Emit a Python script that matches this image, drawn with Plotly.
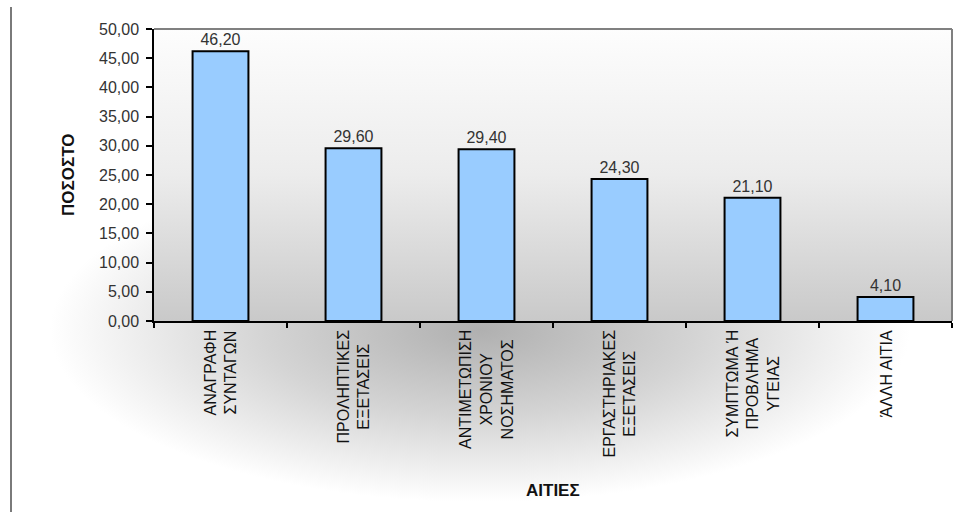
import base64
import plotly.graph_objects as go

categories = ["ΑΝΑΓΡΑΦΗ<br>ΣΥΝΤΑΓΩΝ", "ΠΡΟΛΗΠΤΙΚΕΣ<br>ΕΞΕΤΑΣΕΙΣ",
              "ΑΝΤΙΜΕΤΩΠΙΣΗ<br>ΧΡΟΝΙΟΥ<br>ΝΟΣΗΜΑΤΟΣ", "ΕΡΓΑΣΤΗΡΙΑΚΕΣ<br>ΕΞΕΤΑΣΕΙΣ",
              "ΣΥΜΠΤΩΜΑ Ή<br>ΠΡΟΒΛΗΜΑ<br>ΥΓΕΙΑΣ", "ΆΛΛΗ ΑΙΤΙΑ"]
values = [46.20, 29.60, 29.40, 24.30, 21.10, 4.10]
y_title = "ΠΟΣΟΣΤΟ"
x_title = "ΑΙΤΙΕΣ"

W, H = 957, 525
L, R, T, B = 154, 5, 29, 204
PW, PH = W - L - R, H - T - B

def px_x(px):
    return (px - L) / PW

def px_y(py):
    return (H - B - py) / PH

def svg_uri(svg):
    return "data:image/svg+xml;base64," + base64.b64encode(svg.encode()).decode()

bg_svg = f'''<svg xmlns="http://www.w3.org/2000/svg" width="{W}" height="{H}" viewBox="0 0 {W} {H}" preserveAspectRatio="none">
<defs>
<radialGradient id="g" cx="480" cy="330" r="430" gradientUnits="userSpaceOnUse" gradientTransform="translate(480 330) scale(1 0.4) translate(-480 -330)">
<stop offset="0" stop-color="#b0b0b0"/>
<stop offset="0.5" stop-color="#d4d4d4"/>
<stop offset="1" stop-color="#ffffff"/>
</radialGradient>
<linearGradient id="l" x1="0" y1="0" x2="1" y2="0">
<stop offset="0" stop-color="#ffffff"/>
<stop offset="0.12" stop-color="#f0f0f0"/>
<stop offset="0.2" stop-color="#f4f4f4"/>
<stop offset="1" stop-color="#ffffff"/>
</linearGradient>
</defs>
<rect width="{W}" height="{H}" fill="url(#l)"/>
<rect width="{W}" height="{H}" fill="url(#g)"/>
</svg>'''

plot_svg = '''<svg xmlns="http://www.w3.org/2000/svg" width="100" height="100" viewBox="0 0 100 100" preserveAspectRatio="none">
<defs><linearGradient id="p" x1="0" y1="0" x2="0" y2="1">
<stop offset="0" stop-color="#fdfdfd"/>
<stop offset="0.5" stop-color="#ececec"/>
<stop offset="1" stop-color="#c9c9c9"/>
</linearGradient></defs>
<rect width="100" height="100" fill="url(#p)"/>
</svg>'''

font = "Liberation Sans, Arial, sans-serif"

fig = go.Figure(go.Bar(
    x=categories, y=values,
    marker=dict(color="#99ccff", line=dict(color="#000000", width=2)),
    width=0.42,
    text=values, texttemplate="%{y:.2f}", textposition="outside",
    textfont=dict(family=font, size=16, color="#333333"),
    cliponaxis=False,
))

annotations = []
for c in categories:
    annotations.append(dict(
        x=c, xref="x", y=px_y(328), yref="paper",
        text=c, showarrow=False, textangle=-90, align="center",
        xanchor="center", yanchor="top",
        font=dict(family=font, size=16, color="#111111"),
    ))
annotations.append(dict(
    x=px_x(553), y=px_y(490), xref="paper", yref="paper", text="<b>" + x_title + "</b>",
    showarrow=False, xanchor="center", yanchor="middle",
    font=dict(family=font, size=17, color="#111111")))
annotations.append(dict(
    x=px_x(68), y=px_y(175), xref="paper", yref="paper", text="<b>" + y_title + "</b>",
    showarrow=False, textangle=-90, xanchor="center", yanchor="middle",
    font=dict(family=font, size=17, color="#111111")))

shapes = [
    dict(type="line", xref="paper", yref="paper", x0=0, x1=1, y0=1, y1=1,
         line=dict(color="#808080", width=2)),
    dict(type="line", xref="paper", yref="paper", x0=1, x1=1, y0=0, y1=1,
         line=dict(color="#808080", width=2)),
    dict(type="line", xref="paper", yref="paper", x0=px_x(11), x1=px_x(11),
         y0=px_y(7), y1=px_y(512), line=dict(color="#7a7a7a", width=2)),
]

images = [
    dict(source=svg_uri(bg_svg), xref="paper", yref="paper", x=px_x(0), y=px_y(0),
         sizex=W / PW, sizey=H / PH, sizing="stretch", xanchor="left", yanchor="top",
         layer="below"),
    dict(source=svg_uri(plot_svg), xref="paper", yref="paper", x=0, y=1,
         sizex=1, sizey=1, sizing="stretch", xanchor="left", yanchor="top",
         layer="below"),
]

fig.update_layout(
    width=W, height=H,
    margin=dict(l=L, r=R, t=T, b=B),
    paper_bgcolor="white",
    plot_bgcolor="rgba(0,0,0,0)",
    separators=",.",
    showlegend=False,
    annotations=annotations,
    shapes=shapes,
    images=images,
    xaxis=dict(showticklabels=False, ticks="outside", tickson="boundaries",
               ticklen=5, tickcolor="#000", tickwidth=1.5,
               showline=True, linecolor="#000", linewidth=1.5,
               showgrid=False, zeroline=False),
    yaxis=dict(range=[0, 50], dtick=5, tickformat=".2f", ticks="outside",
               ticklen=6, tickcolor="#000", tickwidth=1.5,
               showline=True, linecolor="#000", linewidth=1.5,
               showgrid=False, zeroline=False, ticklabelstandoff=4,
               tickfont=dict(family=font, size=16, color="#333333")),
)

fig.write_html("out.html")
